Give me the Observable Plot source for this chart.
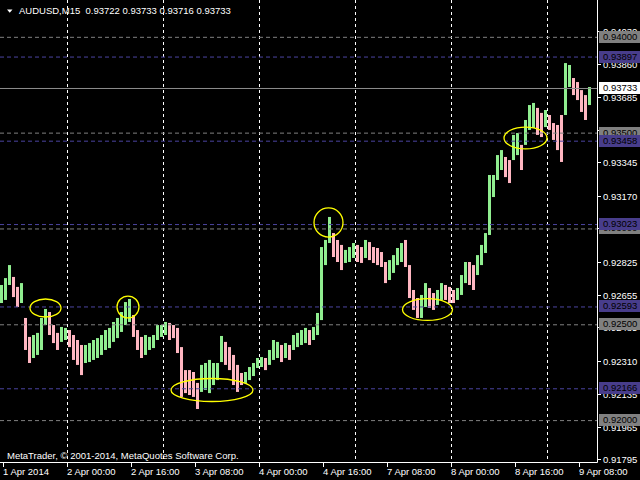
<!DOCTYPE html>
<html><head><meta charset="utf-8">
<script src="https://cdn.jsdelivr.net/npm/d3@7"></script>
<script src="https://cdn.jsdelivr.net/npm/@observablehq/plot@0.6"></script>
<style>html,body{margin:0;padding:0;background:#000;} #chart svg{display:block}</style>
</head><body><div id="chart"></div><script>
// ---- data ----
const symbolTitle = "AUDUSD,M15";
const ohlcTitle = ["0.93722", "0.93733", "0.93716", "0.93733"];
const copyright = "MetaTrader, \u00A9 2001-2014, MetaQuotes Software Corp.";
const barsPerHour = 4; // M15 bars per hourly column

const hourHigh = [
  0.92705, 0.92741, 0.92809, 0.92747, 0.92695, 0.92715, 0.92533, 0.92434, 0.92444, 0.92455,
  0.92533, 0.92580, 0.92564, 0.92496, 0.92455, 0.92486, 0.92481, 0.92470, 0.92444, 0.92418,
  0.92392, 0.92392, 0.92402, 0.92418, 0.92428, 0.92444, 0.92470, 0.92481, 0.92512, 0.92533,
  0.92564, 0.92616, 0.92632, 0.92548, 0.92470, 0.92434, 0.92444, 0.92434, 0.92444, 0.92496,
  0.92496, 0.92512, 0.92507, 0.92496, 0.92481, 0.92381, 0.92261, 0.92261, 0.92251, 0.92194,
  0.92288, 0.92298, 0.92314, 0.92298, 0.92298, 0.92439, 0.92408, 0.92381, 0.92340, 0.92288,
  0.92246, 0.92251, 0.92277, 0.92298, 0.92324, 0.92329, 0.92324, 0.92366, 0.92418, 0.92408,
  0.92392, 0.92402, 0.92392, 0.92444, 0.92455, 0.92470, 0.92481, 0.92470, 0.92486, 0.92559,
  0.92903, 0.92940, 0.93060, 0.92976, 0.92940, 0.92914, 0.92888, 0.92903, 0.92924, 0.92914,
  0.92903, 0.92940, 0.92929, 0.92903, 0.92898, 0.92877, 0.92825, 0.92835, 0.92861, 0.92898,
  0.92924, 0.92940, 0.92809, 0.92679, 0.92637, 0.92653, 0.92715, 0.92689, 0.92663, 0.92679,
  0.92715, 0.92705, 0.92695, 0.92679, 0.92689, 0.92757, 0.92825, 0.92825, 0.92809, 0.92861,
  0.92914, 0.92976, 0.93279, 0.93279, 0.93383, 0.93409, 0.93373, 0.93357, 0.93488, 0.93498,
  0.93436, 0.93566, 0.93644, 0.93655, 0.93629, 0.93603, 0.93618, 0.93592, 0.93550, 0.93540,
  0.93592, 0.93863, 0.93853, 0.93785, 0.93764, 0.93722, 0.93696, 0.93738
];
const hourLow = [
  0.92611, 0.92627, 0.92705, 0.92642, 0.92590, 0.92611, 0.92366, 0.92298, 0.92324, 0.92340,
  0.92366, 0.92496, 0.92444, 0.92402, 0.92366, 0.92408, 0.92418, 0.92381, 0.92314, 0.92288,
  0.92235, 0.92298, 0.92303, 0.92314, 0.92324, 0.92340, 0.92366, 0.92376, 0.92408, 0.92428,
  0.92460, 0.92496, 0.92512, 0.92434, 0.92366, 0.92324, 0.92340, 0.92366, 0.92376, 0.92418,
  0.92434, 0.92444, 0.92418, 0.92428, 0.92350, 0.92121, 0.92141, 0.92131, 0.92121, 0.92058,
  0.92147, 0.92157, 0.92141, 0.92183, 0.92209, 0.92303, 0.92288, 0.92261, 0.92183, 0.92147,
  0.92183, 0.92194, 0.92209, 0.92230, 0.92272, 0.92277, 0.92261, 0.92288, 0.92314, 0.92324,
  0.92303, 0.92324, 0.92314, 0.92366, 0.92381, 0.92392, 0.92402, 0.92392, 0.92418, 0.92444,
  0.92522, 0.92809, 0.92924, 0.92851, 0.92825, 0.92783, 0.92820, 0.92825, 0.92846, 0.92825,
  0.92820, 0.92846, 0.92835, 0.92820, 0.92809, 0.92799, 0.92715, 0.92731, 0.92768, 0.92809,
  0.92825, 0.92799, 0.92637, 0.92575, 0.92533, 0.92533, 0.92590, 0.92585, 0.92575, 0.92601,
  0.92627, 0.92627, 0.92611, 0.92611, 0.92627, 0.92653, 0.92715, 0.92705, 0.92679, 0.92757,
  0.92809, 0.92872, 0.92966, 0.93164, 0.93253, 0.93305, 0.93268, 0.93237, 0.93357, 0.93383,
  0.93305, 0.93436, 0.93514, 0.93524, 0.93488, 0.93477, 0.93529, 0.93514, 0.93462, 0.93409,
  0.93347, 0.93592, 0.93738, 0.93696, 0.93670, 0.93608, 0.93566, 0.93644
];

const priceTicks = [0.94030, 0.93860, 0.93685, 0.93515, 0.93345, 0.93170, 0.93000,
                    0.92825, 0.92655, 0.92485, 0.92310, 0.92135, 0.91965, 0.91795];
const timeTickBars = [3, 67, 131, 195, 259, 323, 387, 451, 515, 579];
const timeTickLabels = ["1 Apr 2014", "2 Apr 00:00", "2 Apr 16:00", "3 Apr 08:00", "4 Apr 00:00",
                        "4 Apr 16:00", "7 Apr 08:00", "8 Apr 00:00", "8 Apr 16:00", "9 Apr 08:00"];
const gridBars = [67, 163, 259, 355, 451, 547];
const grayLevels = [0.94000, 0.93500, 0.93000, 0.92500, 0.92000];
const blueLevels = [0.93897, 0.93458, 0.93023, 0.92593, 0.92166];
const bidPrice = 0.93733;

const ellipseBar = [45.5, 128, 212, 328.5, 427.5, 525.5];
const ellipsePrice = [0.92585, 0.92590, 0.92157, 0.93031, 0.92577, 0.93472];
const ellipseHalfBars = [15.5, 11, 41, 14.5, 25, 21.5];
const ellipseHalfPrice = [0.00047, 0.00057, 0.00060, 0.00076, 0.00057, 0.00057];

const priceDomain = [0.917814, 0.941921];
const barDomain = [0, 597];

// ---- derived table ----
const hours = hourHigh.map((h, i) => ({
  bar: i * barsPerHour,
  high: h,
  low: hourLow[i],
  up: i === 0 ? true : (h + hourLow[i]) >= (hourHigh[i - 1] + hourLow[i - 1])
}));
const ellipses = ellipseBar.map((b, i) => ({bar: b, price: ellipsePrice[i], hb: ellipseHalfBars[i], hp: ellipseHalfPrice[i]}));

const FONT = "Liberation Sans, Arial, sans-serif";
const FS = "9.5px";

function ellipseMark(index, scales, values, dims) {
  const {x, y} = scales;
  const g = d3.create("svg:g");
  for (const e of ellipses) {
    g.append("ellipse")
      .attr("cx", x(e.bar)).attr("cy", y(e.price))
      .attr("rx", x(e.bar + e.hb) - x(e.bar))
      .attr("ry", y(e.price - e.hp) - y(e.price))
      .attr("fill", "none").attr("stroke", "#FFFF00").attr("stroke-width", 1.3);
  }
  return g.node();
}

function axesMark(index, scales, values, dims) {
  const {x, y} = scales;
  const x0 = dims.width - dims.marginRight;
  const yb = dims.height - dims.marginBottom;
  const g = d3.create("svg:g").attr("font-family", FONT).attr("font-size", FS).attr("text-anchor", "start");
  // frame lines
  g.append("line").attr("x1", x0 + 0.5).attr("x2", x0 + 0.5).attr("y1", 0).attr("y2", yb + 0.5).attr("stroke", "#fff");
  g.append("line").attr("x1", 0).attr("x2", x0 + 0.5).attr("y1", yb + 0.5).attr("y2", yb + 0.5).attr("stroke", "#fff");
  // price ticks
  for (const p of priceTicks) {
    const yy = Math.round(y(p)) + 0.5;
    g.append("line").attr("x1", x0).attr("x2", x0 + 4).attr("y1", yy).attr("y2", yy).attr("stroke", "#fff");
    g.append("text").attr("x", x0 + 6).attr("y", yy).attr("dy", "0.35em").attr("fill", "#fff").text(d3.format(".5f")(p));
  }
  // level labels (drawn over the axis labels, as in the terminal)
  const box = (p, bg, fg) => {
    const yy = Math.round(y(p));
    g.append("rect").attr("x", x0 + 2).attr("y", yy - 6).attr("width", dims.width - x0 - 2).attr("height", 12).attr("fill", bg);
    g.append("text").attr("x", x0 + 6).attr("y", yy).attr("dy", "0.35em").attr("fill", fg).text(d3.format(".5f")(p));
  };
  for (const p of grayLevels) box(p, "#808080", "#000");
  for (const p of blueLevels) box(p, "#483D8B", "#000");
  box(bidPrice, "#ffffff", "#000");
  // time ticks
  timeTickBars.forEach((b, i) => {
    const xx = Math.round(x(b)) + 0.5;
    g.append("line").attr("x1", xx).attr("x2", xx).attr("y1", yb).attr("y2", yb + 5).attr("stroke", "#fff");
    g.append("text").attr("x", xx - 0.5).attr("y", yb + 13).attr("fill", "#fff").text(timeTickLabels[i]);
  });
  // header & footer
  g.append("path").attr("d", "M7,9.5L12.5,9.5L9.75,12.7Z").attr("fill", "#fff");
  g.append("text").attr("x", 19).attr("y", 14).attr("fill", "#fff").style("white-space", "pre")
    .text(symbolTitle + "  " + ohlcTitle.join(" "));
  g.append("text").attr("x", 7).attr("y", yb - 3.5).attr("fill", "#fff").text(copyright);
  return g.node();
}

const chart = Plot.plot({
  width: 640,
  height: 480,
  marginLeft: 0,
  marginRight: 43,
  marginTop: 0,
  marginBottom: 18,
  x: {domain: barDomain, axis: null},
  y: {domain: priceDomain, axis: null},
  style: {background: "#000", color: "#fff", fontFamily: FONT, fontSize: FS, overflow: "visible"},
  marks: [
    Plot.ruleX(gridBars, {stroke: "#fff", strokeDasharray: "3,3"}),
    Plot.rect(hours.filter(d => d.up), {x1: "bar", x2: d => d.bar + barsPerHour, y1: "low", y2: "high", insetRight: 1, fill: "#90EE90"}),
    Plot.rect(hours.filter(d => !d.up), {x1: "bar", x2: d => d.bar + barsPerHour, y1: "low", y2: "high", insetRight: 1, fill: "#FFB6C1"}),
    Plot.ruleY(grayLevels, {stroke: "#808080", strokeDasharray: "4,3"}),
    Plot.ruleY(blueLevels, {stroke: "#4B44A0", strokeDasharray: "4,3"}),
    Plot.ruleY([bidPrice], {stroke: "#8c8c8c"}),
    ellipseMark,
    axesMark
  ]
});
document.getElementById("chart").appendChild(chart);
</script></body></html>
